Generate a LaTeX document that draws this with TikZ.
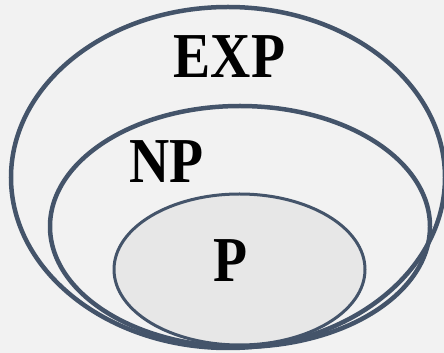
\documentclass[tikz,border=0pt]{standalone}
\usepackage{fontspec}
\setmainfont{Liberation Serif}
\usetikzlibrary{shapes.geometric}
\definecolor{bgcol}{HTML}{F2F2F2}
\definecolor{edgecol}{HTML}{44546A}
\definecolor{pfill}{HTML}{E7E7E7}
\begin{document}
\begin{tikzpicture}[x=1pt,y=1pt,
  setbox/.style={shape=ellipse, draw=edgecol, inner sep=0pt},
  setlabel/.style={inner sep=0pt, font=\fontsize{64}{64}\selectfont\bfseries, xscale=0.87, transform shape}]
\fill[bgcol] (0,0) rectangle (444,353);
\useasboundingbox (0,0) rectangle (444,353);
\node[setbox, line width=4.5pt, minimum width=434pt, minimum height=341pt] (exp) at (228,175.5) {};
\node[setbox, line width=4.5pt, minimum width=380pt, minimum height=241pt] (np) at (240,126.5) {};
\node[setbox, line width=3pt, fill=pfill, minimum width=251pt, minimum height=151pt] (p) at (239.5,83.5) {};
\node[setlabel] (explabel) at (229.5,296.5) {EXP};
\node[setlabel] (nplabel) at (166.5,191.5) {NP};
\node[setlabel] (plabel) at (230.5,92) {P};
\end{tikzpicture}
\end{document}
